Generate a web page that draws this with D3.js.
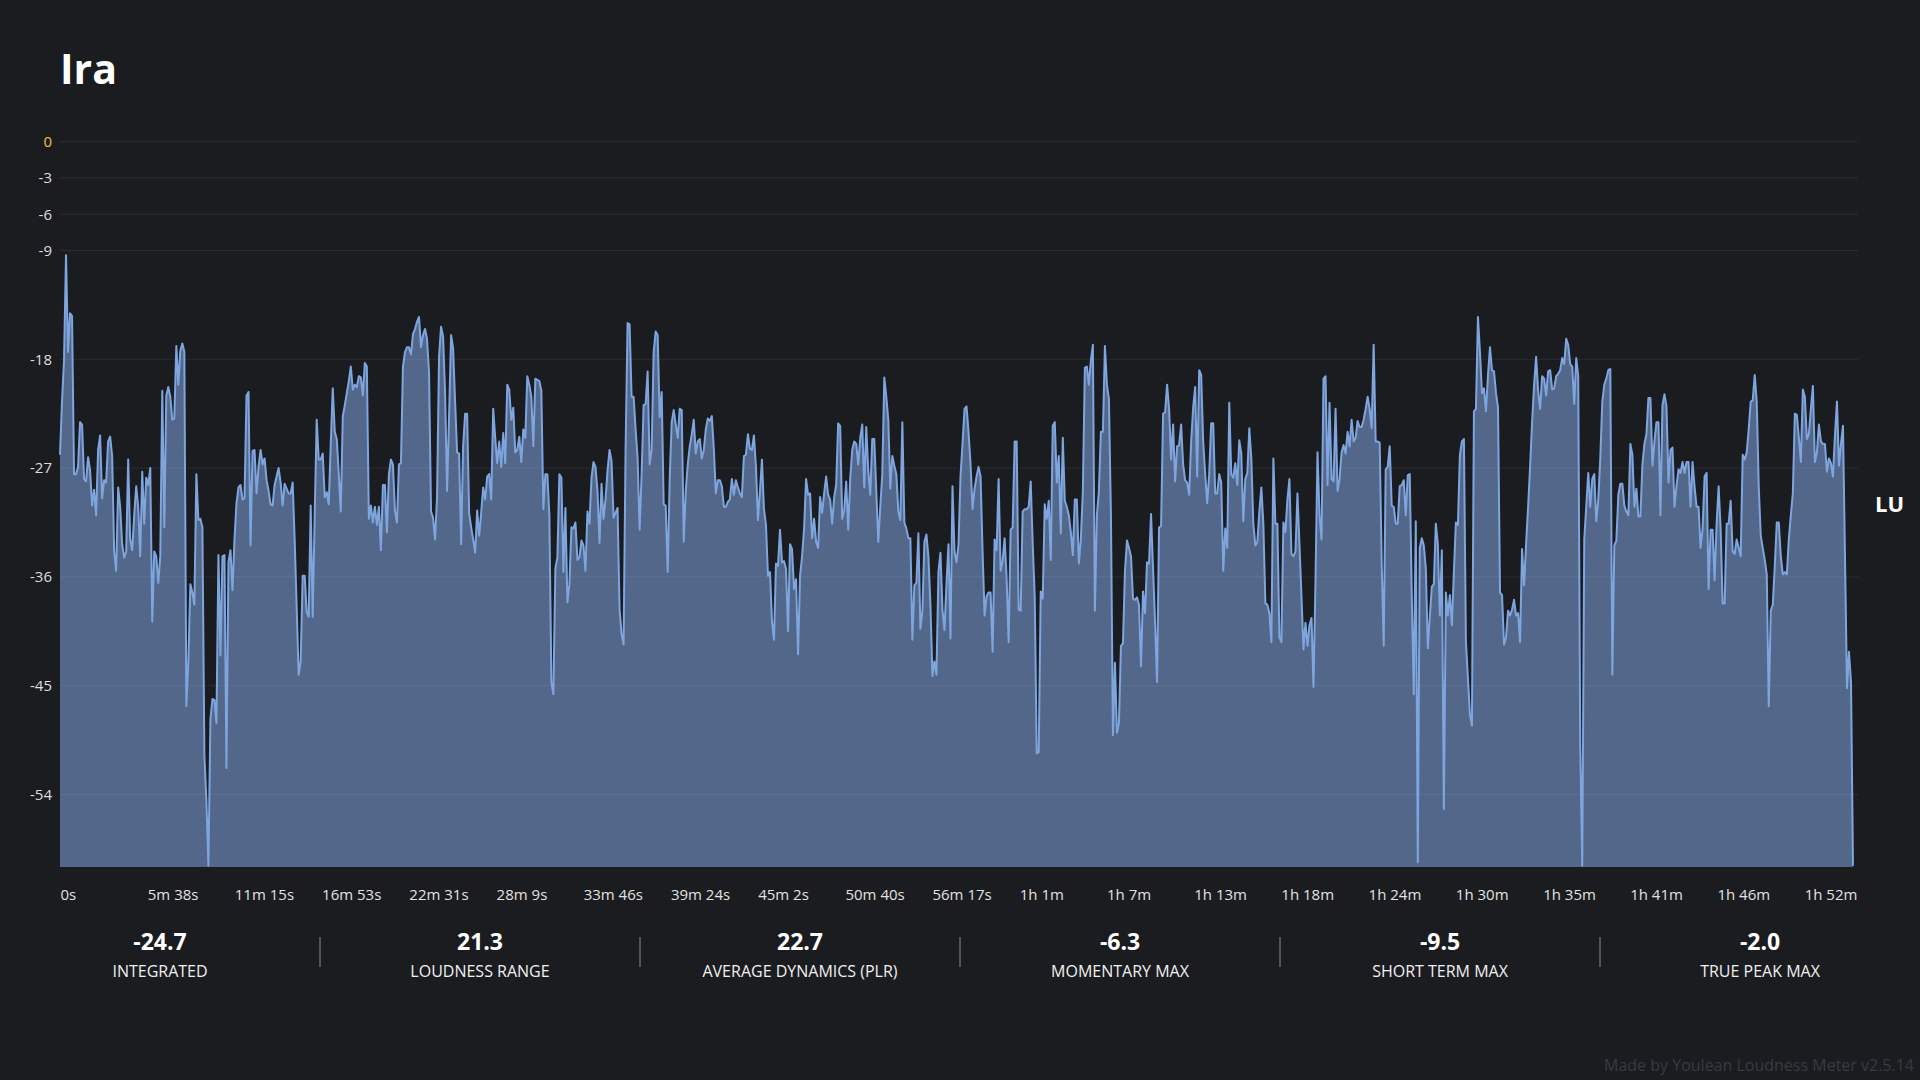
<!DOCTYPE html>
<html>
<head>
<meta charset="utf-8">
<title>Ira</title>
<script src="https://cdn.jsdelivr.net/npm/d3@7"></script>
<style>
    body { margin: 0; background: #1b1c20; }
    #chart-area { width: 1920px; height: 1080px; }
    text { font-family: "Open Sans", "Noto Sans", sans-serif; }
</style>
</head>
<body>
<div id="chart-area"></div>
<script>

// track info
let trackTitle = "Ira"
let trackDuration = 6944 // seconds

// short term loudness (LU), evenly spaced over the track
let luValues = [
    -25.9,-21.5,-18.1,-9.4,-17.4,-14.2,-14.4,-27.5,-27.5,-26.9,-23.2,-23.4,-27.9,-28.1,-26.1,-27.2,-30.1,-28.8,-30.9,-25.5,
    -24.3,-29.5,-28.0,-28.2,-24.8,-24.4,-26.0,-33.9,-35.5,-28.6,-30.2,-33.3,-34.4,-33.9,-26.3,-32.9,-33.8,-30.9,-28.5,-30.2,
    -34.3,-27.3,-31.6,-27.8,-28.4,-27.0,-39.7,-33.9,-34.3,-36.5,-34.3,-20.6,-31.9,-21.0,-20.3,-21.1,-23.0,-22.9,-16.9,-20.1,
    -17.3,-16.7,-17.4,-46.7,-43.0,-36.6,-37.3,-38.3,-27.5,-31.3,-31.2,-31.9,-50.8,-54.5,-59.9,-47.8,-46.1,-46.2,-48.1,-34.2,
    -42.5,-34.3,-34.2,-51.8,-34.8,-33.8,-37.1,-32.9,-29.9,-28.6,-28.4,-29.6,-29.5,-21.0,-20.7,-33.4,-25.6,-25.5,-29.1,-26.9,
    -25.5,-26.7,-26.2,-28.0,-28.9,-30.0,-30.1,-28.4,-27.7,-27.0,-28.2,-30.1,-28.3,-28.7,-29.1,-29.1,-28.2,-32.9,-38.5,-44.1,
    -43.0,
    -35.9,-35.9,-38.9,-39.3,-30.1,-39.3,-30.9,-23.0,-26.3,-26.3,-25.8,-29.4,-29.0,-30.0,-25.0,-20.4,-24.0,-24.6,-27.5,-30.6,
    -22.7,-21.8,-20.8,-19.8,-18.6,-20.5,-20.1,-20.3,-19.4,-19.5,-21.0,-18.3,-18.6,-31.2,-30.1,-31.5,-30.2,-31.7,-30.2,-33.8,
    -28.4,-28.4,-32.3,-27.5,-26.3,-26.7,-30.5,-31.5,-26.7,-26.6,-18.6,-17.4,-17.0,-17.0,-17.6,-15.9,-15.5,-14.9,-14.5,-17.0,
    -16.0,-15.5,-16.3,-19.1,-30.6,-31.1,-32.9,-29.4,-17.8,-15.3,-16.1,-20.8,-28.9,-22.7,-16.0,-17.1,-21.5,-25.7,-25.8,-33.3,
    -25.2,-22.5,-22.5,-30.7,-31.9,-32.9,-34.0,-30.5,-32.6,-30.7,-28.6,-29.6,-27.7,-27.5,-29.6,-22.1,-24.5,-26.6,-24.8,-26.9,
    -24.1,-26.6,-20.1,-20.5,-23.0,-22.0,-25.7,-25.5,-24.4,-26.5,-23.8,-24.5,-19.4,-20.1,-21.1,-25.2,-19.6,-19.7,-19.8,-20.6,
    -30.4,-27.5,-27.5,
    -30.9,-44.7,-45.7,-35.3,-34.4,-27.5,-27.8,-35.6,-30.3,-38.1,-36.6,-31.9,-32.0,-31.5,-34.6,-34.4,-33.0,-33.4,-35.5,-30.6,
    -31.6,-27.8,-26.5,-26.9,-28.9,-33.2,-28.3,-31.2,-29.6,-27.2,-25.5,-26.4,-31.1,-30.7,-30.3,-38.7,-40.7,-41.6,-25.5,-15.0,
    -15.1,-21.1,-21.1,-23.8,-26.2,-32.1,-27.5,-21.8,-21.7,-19.0,-26.7,-25.5,-17.4,-15.7,-16.0,-22.8,-20.7,-30.0,-30.1,-35.6,
    -27.9,-23.2,-22.2,-23.4,-24.5,-22.1,-22.2,-33.1,-28.9,-26.7,-25.2,-24.2,-23.0,-25.8,-24.8,-24.6,-26.2,-25.5,-23.8,-22.9,
    -23.1,-22.7,-25.4,-29.1,-28.0,-28.0,-28.5,-30.2,-30.2,-29.8,-29.6,-27.9,-29.2,-28.0,-28.6,-29.1,-29.4,-26.0,-25.9,-24.2,
    -25.4,-25.5,-24.3,-26.9,-31.3,-28.9,-26.3,-30.4,-31.7,-35.9,-35.6,-39.7,-41.2,-34.9,-35.1,-32.1,-34.8,
    -34.7,-35.3,-40.5,-33.3,-33.7,-37.0,-36.2,-42.4,-35.9,-34.3,-32.0,-27.9,-29.2,-29.1,-32.8,-31.2,-33.1,-33.6,-29.4,-30.7,
    -29.1,-27.7,-29.2,-29.6,-31.6,-29.4,-28.4,-23.3,-23.5,-31.2,-30.5,-28.1,-32.1,-27.9,-25.5,-24.8,-25.0,-26.7,-24.5,-23.4,
    -28.6,-23.6,-27.2,-29.2,-24.6,-24.6,-28.9,-33.1,-30.2,-27.5,-19.5,-21.1,-23.0,-28.7,-26.0,-26.8,-27.5,-30.6,-31.3,-23.2,
    -31.5,-32.0,-32.8,-32.8,-41.2,-36.7,-36.5,-32.4,-40.3,-38.8,-33.1,-32.5,-34.3,-38.3,-44.2,-43.0,-44.1,-35.6,-34.0,-38.7,
    -40.4,-36.6,-33.3,-41.1,-28.5,-33.9,-34.8,-33.3,-27.7,-25.0,-22.1,-21.9,-24.0,-26.7,-30.4,-28.7,-27.7,-26.9,-27.7,-33.9,
    -39.2,-37.6,-37.3,-37.3,-42.2,-32.9,-33.8,-27.9,
    -35.5,-34.7,-32.8,-36.1,-41.4,-32.1,-31.9,-24.8,-24.8,-38.7,-38.8,-30.6,-30.4,-30.4,-30.2,-28.1,-33.3,-37.6,-50.6,-50.5,
    -37.2,-37.8,-30.0,-31.2,-29.7,-34.6,-23.5,-23.2,-28.2,-26.0,-32.4,-24.5,-29.7,-30.2,-30.9,-32.3,-34.2,-29.6,-29.6,-34.9,
    -32.9,-28.9,-18.7,-18.6,-20.1,-18.1,-16.8,-38.8,-30.9,-28.9,-24.0,-24.0,-16.9,-20.1,-21.3,-30.9,-49.1,-43.1,-48.9,-48.1,
    -41.7,-41.5,-35.5,-33.0,-33.6,-34.3,-37.8,-37.9,-37.7,-38.3,-43.4,-37.2,-39.0,-34.8,-34.9,-30.8,-35.3,-39.7,-44.7,-31.9,
    -31.8,-22.5,-22.4,-20.1,-22.1,-26.3,-23.4,-28.1,-25.2,-25.1,-23.4,-26.7,-28.0,-28.2,-29.2,-24.8,-22.0,-20.3,-27.7,-18.9,
    -19.3,-24.8,-27.5,-29.9,-27.5,-23.3,-23.3,
    -29.1,-29.1,-27.5,-28.2,-35.5,-32.0,-33.6,-21.6,-27.5,-27.8,-26.6,-28.4,-24.7,-25.8,-31.4,-27.9,-27.4,-23.7,-26.2,-31.6,
    -33.4,-33.1,-30.6,-28.6,-31.6,-38.2,-38.3,-39.0,-41.4,-26.2,-31.6,-31.6,-41.0,-41.4,-31.5,-32.3,-29.6,-27.9,-34.1,-34.3,
    -33.9,-29.1,-33.3,-37.6,-42.0,-39.8,-41.7,-40.0,-39.4,-45.1,-36.3,-25.7,-30.9,-32.9,-19.6,-19.4,-28.4,-21.6,-27.9,-28.1,
    -22.1,-28.9,-27.9,-25.7,-25.1,-25.8,-24.0,-25.2,-23.0,-24.8,-24.5,-23.1,-23.6,-23.6,-23.0,-22.1,-21.1,-22.1,-23.7,-16.8,
    -24.8,-24.8,-24.9,-34.9,-41.7,-27.1,-26.9,-25.2,-30.1,-30.2,-31.6,-31.6,-28.5,-28.4,-28.0,-30.9,-27.6,-27.5,-37.6,-45.7,
    -31.4,-59.6,-33.6,-32.8,-33.4,-35.3,-41.9,-39.3,
    -36.8,-36.6,-31.6,-33.3,-39.2,-33.8,-55.2,-37.3,-39.2,-37.5,-40.0,-35.6,-31.5,-31.7,-25.9,-24.8,-24.6,-41.4,-44.4,-47.4,
    -48.3,-22.3,-22.1,-14.5,-17.4,-20.8,-20.4,-22.3,-19.3,-17.0,-18.9,-19.0,-20.8,-22.0,-37.3,-37.5,-41.6,-41.0,-38.8,-39.2,
    -38.7,-37.9,-39.2,-39.0,-41.4,-33.7,-36.7,-33.3,-30.2,-26.9,-23.2,-20.1,-17.8,-20.6,-22.1,-19.4,-19.6,-21.0,-19.0,-18.9,
    -20.5,-20.4,-19.4,-19.2,-18.9,-17.9,-18.4,-16.3,-16.8,-18.4,-18.6,-21.7,-17.9,-19.4,-50.0,-59.9,-32.9,-30.2,-27.4,-30.2,
    -27.9,-27.5,-31.4,-29.6,-26.2,-21.5,-20.1,-19.6,-18.9,-18.8,-44.1,-33.4,-33.0,-29.2,-28.3,-28.3,-30.1,-30.6,-30.9,-25.0,
    -25.9,-30.2,-28.7,-31.0,-31.0,-26.7,-25.0,
    -24.2,-21.2,-21.2,-26.8,-24.8,-23.2,-23.2,-30.9,-21.8,-20.9,-21.9,-28.2,-25.5,-25.3,-30.2,-28.5,-27.1,-27.4,-26.5,-27.4,
    -26.5,-26.5,-30.2,-26.5,-28.5,-30.2,-30.2,-33.6,-32.0,-27.7,-27.4,-37.0,-32.1,-32.1,-36.3,-31.6,-28.5,-32.0,-38.2,-38.2,
    -31.6,-31.6,-29.7,-33.9,-34.1,-32.9,-33.6,-34.3,-25.9,-26.3,-25.7,-23.8,-21.5,-21.4,-19.3,-21.5,-28.5,-32.6,-33.6,-34.6,
    -35.8,-46.7,-38.8,-38.3,-35.1,-31.5,-31.5,-34.3,-35.8,-35.6,-35.8,-32.9,-30.9,-29.1,-22.5,-22.6,-24.5,-26.5,-20.5,-21.1,
    -24.6,-24.2,-22.1,-20.2,-26.5,-25.7,-23.4,-24.8,-25.0,-25.0,-27.3,-26.2,-26.6,-27.7,-24.3,-21.5,-26.8,-25.0,-23.5,-34.3,
    -45.2,-42.2,-44.7,-59.9
]

// y axis
let yTicks = [0, -3, -6, -9, -18, -27, -36, -45, -54]

// x axis
let tickTimes = [0, 338, 675, 1013, 1351, 1689, 2026, 2364, 2702, 3040, 3377,
    3715, 4053, 4391, 4728, 5066, 5404, 5742, 6079, 6417, 6755]
let tickLabels = ["0s", "5m 38s", "11m 15s", "16m 53s", "22m 31s", "28m 9s", "33m 46s", "39m 24s",
    "45m 2s", "50m 40s", "56m 17s", "1h 1m", "1h 7m", "1h 13m", "1h 18m", "1h 24m", "1h 30m",
    "1h 35m", "1h 41m", "1h 46m", "1h 52m"]

// summary numbers under the chart
let statValues = ["-24.7", "21.3", "22.7", "-6.3", "-9.5", "-2.0"]
let statLabels = ["INTEGRATED", "LOUDNESS RANGE", "AVERAGE DYNAMICS (PLR)",
    "MOMENTARY MAX", "SHORT TERM MAX", "TRUE PEAK MAX"]


class LoudnessVis {

    constructor(parentElement, values) {
        this.parentElement = parentElement;
        this.values = values;

        this.initVis()
    }

    initVis() {
        let vis = this

        vis.width = 1920
        vis.height = 1080
        vis.plot = {left: 60, right: 1853, top: 141.7, bottom: 867, gridEnd: 1858}

        vis.svg = d3.select("#" + vis.parentElement).append("svg")
            .attr("width", vis.width)
            .attr("height", vis.height)

        vis.svg.append("rect")
            .attr("width", vis.width)
            .attr("height", vis.height)
            .attr("fill", "#1b1c20")

        // scales
        vis.x = d3.scaleLinear()
            .domain([0, trackDuration])
            .range([vis.plot.left, vis.plot.right])

        vis.y = d3.scaleLinear()
            .domain([-60, 0])
            .range([vis.plot.bottom, vis.plot.top])

        // title
        vis.svg.append("text")
            .attr("x", 60)
            .attr("y", 84)
            .attr("fill", "#ffffff")
            .style("font-size", "41px")
            .style("font-weight", 700)
            .text(trackTitle)

        // loudness area
        let step = trackDuration / (vis.values.length - 1)

        vis.area = d3.area()
            .x((d, i) => vis.x(i * step))
            .y0(vis.y(-60))
            .y1(d => vis.y(Math.max(d, -60)))

        vis.line = d3.line()
            .x((d, i) => vis.x(i * step))
            .y(d => vis.y(Math.max(d, -60)))

        vis.svg.append("path")
            .datum(vis.values)
            .attr("class", "area")
            .attr("d", vis.area)
            .attr("fill", "#526789")

        // grid lines go over the fill
        vis.svg.append("g")
            .attr("class", "grid")
            .selectAll("line")
            .data(yTicks)
            .enter()
            .append("line")
            .attr("x1", vis.plot.left)
            .attr("x2", vis.plot.gridEnd)
            .attr("y1", d => vis.y(d))
            .attr("y2", d => vis.y(d))
            .attr("stroke", "#ffffff")
            .attr("stroke-opacity", 0.07)
            .attr("stroke-width", 1)

        vis.svg.append("path")
            .datum(vis.values)
            .attr("class", "line")
            .attr("d", vis.line)
            .attr("fill", "none")
            .attr("stroke", "#7fa5de")
            .attr("stroke-width", 2)
            .attr("stroke-linejoin", "round")

        // y axis labels
        vis.yAxis = d3.axisLeft(vis.y)
            .tickValues(yTicks)
            .tickSize(0)
            .tickPadding(8)
            .tickFormat(d => d)

        vis.svg.append("g")
            .attr("class", "axis y-axis")
            .attr("transform", `translate(${vis.plot.left}, 0)`)
            .call(vis.yAxis)
            .call(g => g.select(".domain").remove())
            .selectAll("text")
            .style("font-size", "15px")
            .style("font-family", '"Open Sans", "Noto Sans", sans-serif')
            .attr("fill", d => d === 0 ? "#f2c230" : "#dcdcdc")

        // x axis labels, left aligned on their time
        vis.xAxis = d3.axisBottom(vis.x)
            .tickValues(tickTimes)
            .tickSize(0)
            .tickPadding(22)
            .tickFormat((d, i) => tickLabels[i])

        vis.svg.append("g")
            .attr("class", "axis x-axis")
            .attr("transform", `translate(0, ${vis.plot.bottom})`)
            .call(vis.xAxis)
            .call(g => g.select(".domain").remove())
            .selectAll("text")
            .attr("text-anchor", "start")
            .style("font-size", "15px")
            .style("font-family", '"Open Sans", "Noto Sans", sans-serif')
            .attr("fill", "#e2e2e2")

        // unit label
        vis.svg.append("text")
            .attr("x", 1875)
            .attr("y", (vis.plot.top + vis.plot.bottom) / 2)
            .attr("dy", "0.36em")
            .attr("fill", "#ffffff")
            .style("font-size", "22px")
            .style("font-weight", 700)
            .text("LU")

        // stats row
        vis.statScale = d3.scaleBand()
            .domain(d3.range(statValues.length))
            .range([0, vis.width])

        let stats = vis.svg.append("g")
            .attr("class", "stats")
            .selectAll("g")
            .data(statValues)
            .enter()
            .append("g")
            .attr("transform", (d, i) => `translate(${vis.statScale(i) + vis.statScale.bandwidth() / 2}, 0)`)

        stats.append("text")
            .attr("y", 950)
            .attr("text-anchor", "middle")
            .attr("fill", "#ffffff")
            .style("font-size", "23px")
            .style("font-weight", 700)
            .text(d => d)

        stats.append("text")
            .attr("y", 977)
            .attr("text-anchor", "middle")
            .attr("fill", "#f0f0f0")
            .style("font-size", "16px")
            .text((d, i) => statLabels[i])

        // separators between the stats
        stats.filter((d, i) => i > 0)
            .append("line")
            .attr("x1", -vis.statScale.bandwidth() / 2)
            .attr("x2", -vis.statScale.bandwidth() / 2)
            .attr("y1", 937)
            .attr("y2", 967)
            .attr("stroke", "#8a8b8f")
            .attr("stroke-width", 1)

        // footer
        vis.svg.append("text")
            .attr("x", 1914)
            .attr("y", 1071)
            .attr("text-anchor", "end")
            .attr("fill", "#383a40")
            .style("font-size", "16px")
            .text("Made by Youlean Loudness Meter v2.5.14")
    }
}

new LoudnessVis("chart-area", luValues)

</script>
</body>
</html>
